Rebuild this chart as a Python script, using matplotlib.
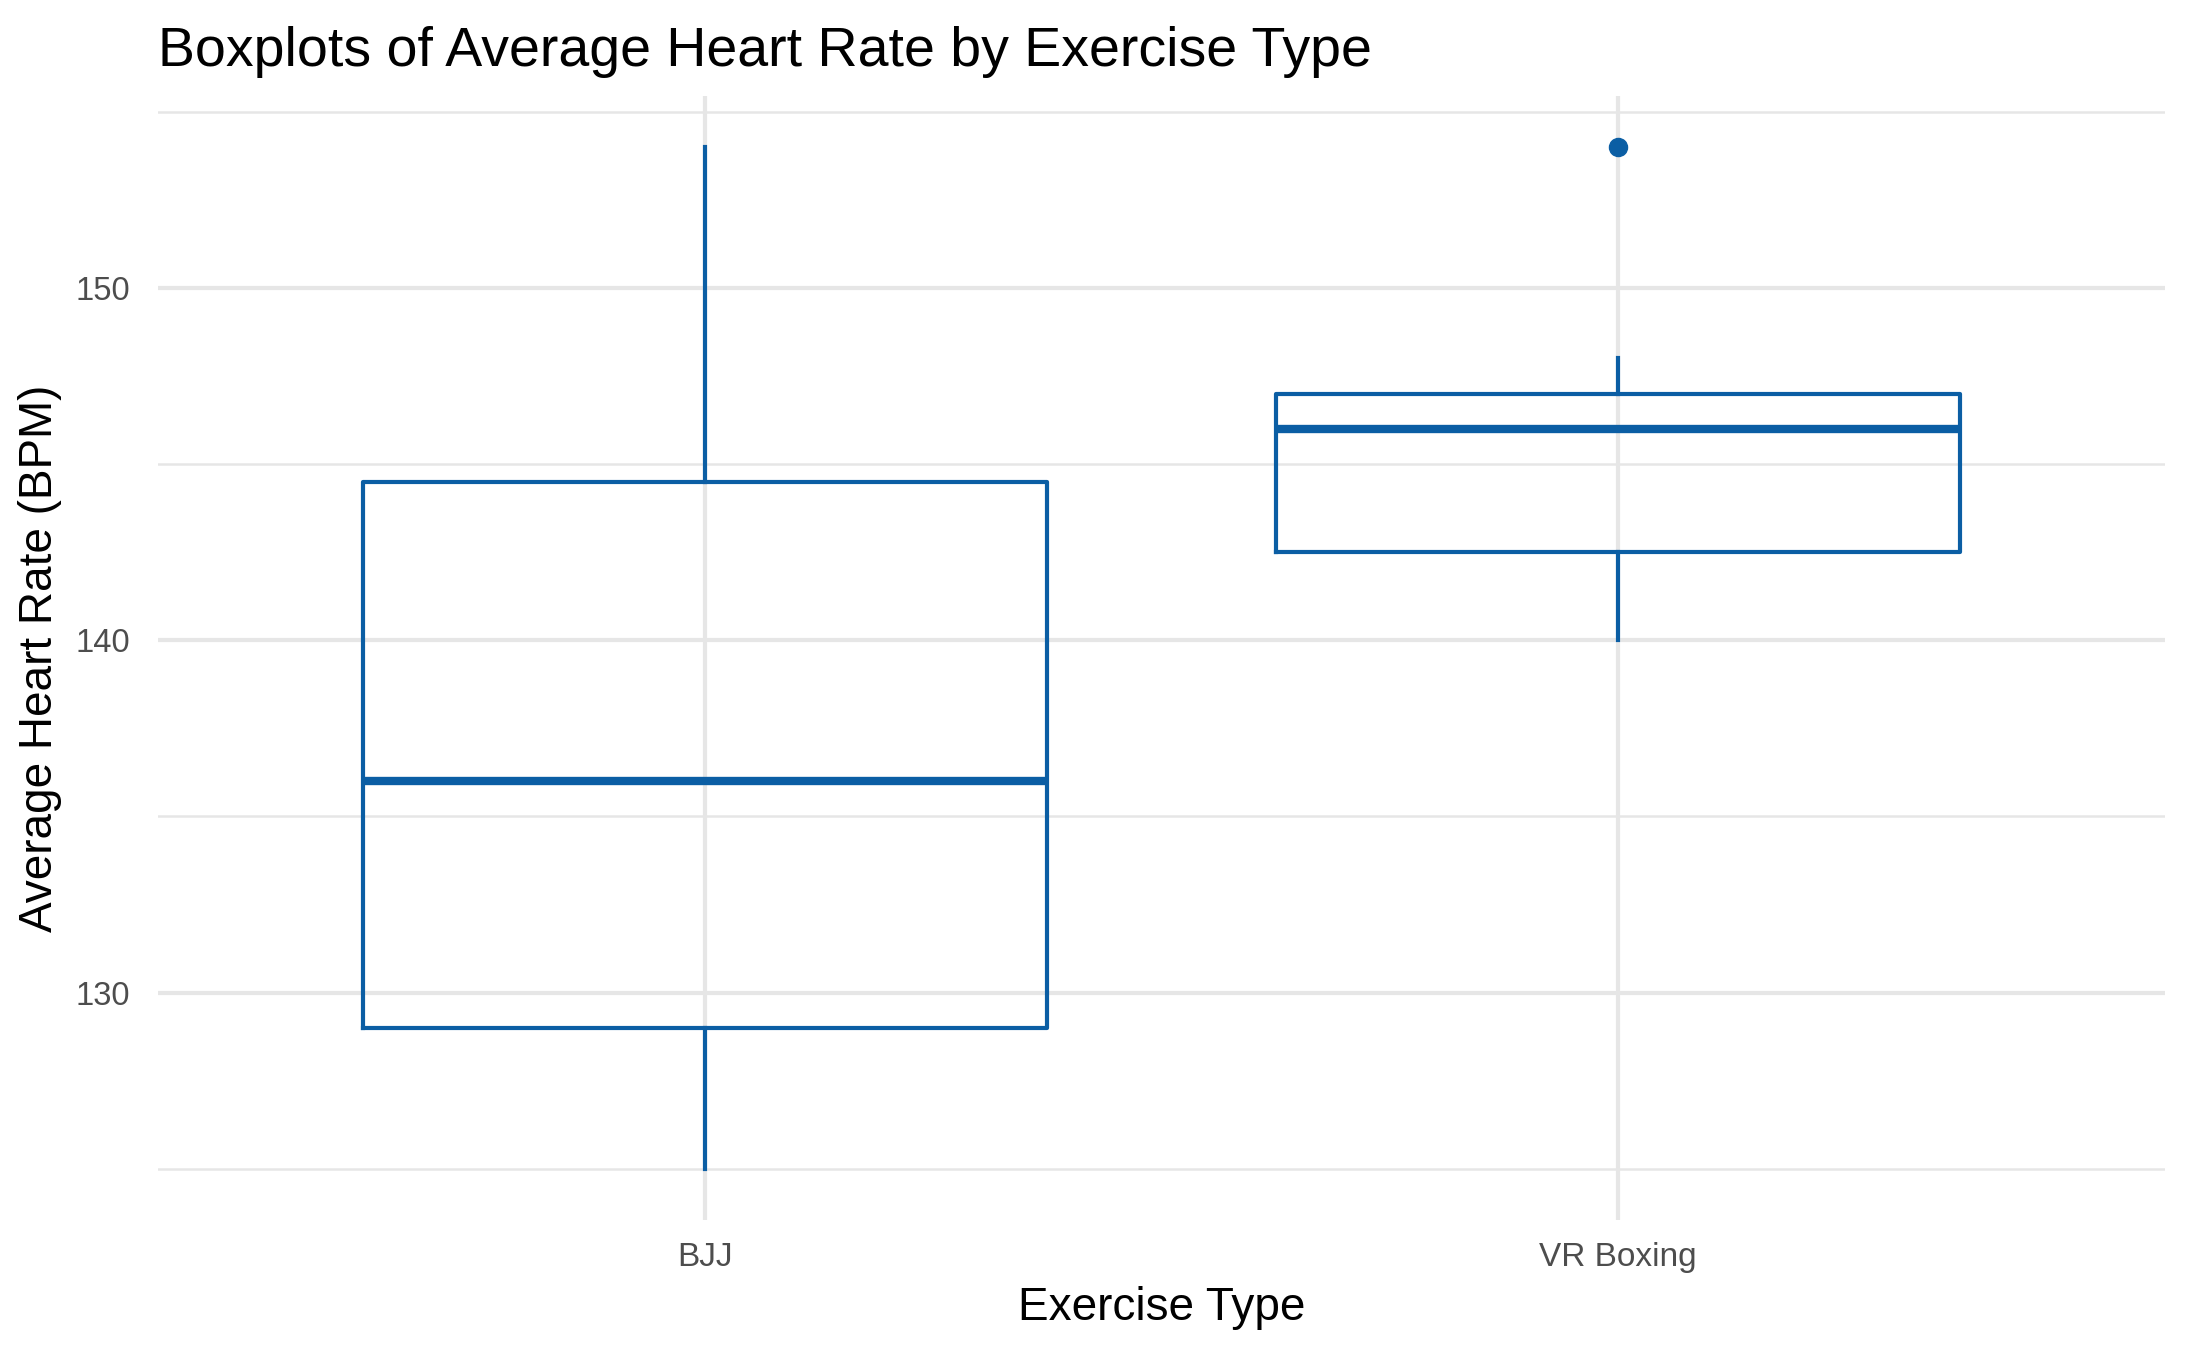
import matplotlib
matplotlib.use("Agg")
import matplotlib.pyplot as plt
from matplotlib.ticker import MultipleLocator

# --- data (BPM)
exercise = ["BJJ", "VR Boxing"]
whisker_low = [125, 140]
q1 = [129, 142.5]
median = [136, 146]
q3 = [144.5, 147]
whisker_high = [154, 148]
outliers = [[], [154]]

blue = "#0b5ea4"
grid = "#e6e6e6"

plt.rcParams["font.family"] = ["Liberation Sans", "DejaVu Sans"]

stats = []
for i, name in enumerate(exercise):
    stats.append(dict(label=name, whislo=whisker_low[i], q1=q1[i], med=median[i],
                      q3=q3[i], whishi=whisker_high[i], fliers=outliers[i]))

fig = plt.figure(figsize=(21.87, 13.51), dpi=100)
ax = fig.add_axes([0.0722, 0.097, 0.9178, 0.832])

ax.bxp(stats, positions=[1, 2], widths=0.75, showcaps=False, patch_artist=False,
       boxprops=dict(color=blue, linewidth=3),
       whiskerprops=dict(color=blue, linewidth=3),
       medianprops=dict(color=blue, linewidth=6, solid_capstyle="butt"),
       flierprops=dict(marker="o", markerfacecolor=blue, markeredgecolor=blue,
                       markersize=13))

ax.set_xlim(0.4, 2.6)
ax.set_ylim(123.55, 155.45)
ax.yaxis.set_major_locator(MultipleLocator(10))
ax.yaxis.set_minor_locator(MultipleLocator(5))
ax.set_xticks([1, 2])
ax.set_xticklabels(exercise)

ax.grid(True, which="major", color=grid, linewidth=3)
ax.grid(True, which="minor", axis="y", color=grid, linewidth=1.8)
ax.set_axisbelow(True)
for s in ax.spines.values():
    s.set_visible(False)
ax.tick_params(which="both", length=0)
ax.tick_params(axis="y", labelsize=23.5, labelcolor="#4d4d4d", pad=20)
ax.tick_params(axis="x", labelsize=24, labelcolor="#4d4d4d", pad=16)

ax.set_xlabel("Exercise Type", fontsize=33, labelpad=9)
ax.set_ylabel("Average Heart Rate (BPM)", fontsize=33, labelpad=10)
fig.text(0.0722, 0.951, "Boxplots of Average Heart Rate by Exercise Type",
         fontsize=40, ha="left", va="baseline")

fig.savefig("out.png", dpi=100)
